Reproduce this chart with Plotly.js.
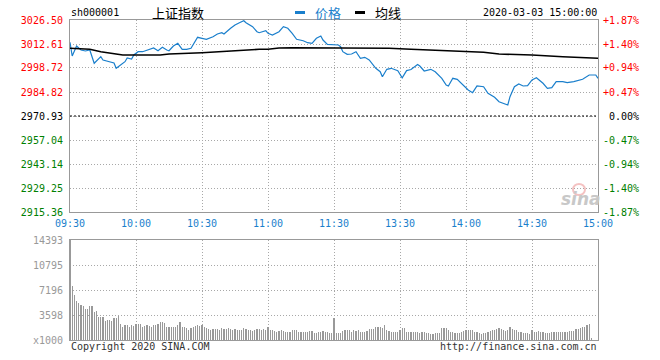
<!DOCTYPE html>
<html><head><meta charset="utf-8">
<script src="https://cdn.plot.ly/plotly-3.0.1.min.js"></script>
<style>html,body{margin:0;padding:0;background:#fff;}#chart{width:660px;height:360px;}</style>
</head><body><div id="chart"></div>
<script>
const timeTicks = [0,30,60,90,120,150,180,210,240];
const timeLabels = ['09:30','10:00','10:30','11:00','11:30','13:30','14:00','14:30','15:00'];
const priceTicks = [3026.50,3012.61,2998.72,2984.82,2970.93,2957.04,2943.14,2929.25,2915.36];
const pctLabels = ['+1.87%','+1.40%','+0.94%','+0.47%','0.00%','-0.47%','-0.94%','-1.40%','-1.87%'];
const prevClose = 2970.93;
const volTicks = [0,3598,7196,10795,14393];
const volLabels = ['x1000','3598','7196','10795','14393'];

const priceIdx = [0,1,3,5,7,9,11,14,15,18,20,21,23,25,26,28,29,31,33,35,
  38,40,42,44,45,47,49,51,53,55,57,58,60,62,65,67,69,70,73,75,
  77,79,80,83,85,86,89,90,92,95,97,99,101,103,106,108,110,112,114,115,
  117,120,122,123,124,126,128,130,132,134,136,139,141,142,144,146,149,151,153,155,
  158,159,161,164,166,169,171,172,174,176,178,181,183,185,188,190,193,195,199,200,
  202,204,206,208,210,212,215,217,219,221,224,226,229,233,236,239,240];
const priceVal = [3013.59,3005.66,3011.45,3009.13,3008.56,3009.13,3001.44,3005.26,3003.35,3002.36,3001.61,2998.54,3000.45,3002.36,3004.50,3003.92,3006.24,3008.15,3008.15,3009.13,
  3010.29,3008.73,3010.70,3009.13,3008.73,3011.45,3013.01,3009.54,3009.54,3010.12,3013.94,3016.49,3015.91,3015.33,3016.83,3018.40,3019.15,3018.40,3021.70,3023.61,
  3024.94,3026.10,3024.94,3022.62,3019.73,3019.15,3020.31,3018.80,3017.82,3019.73,3022.62,3021.70,3018.80,3015.33,3014.52,3013.36,3013.01,3015.91,3017.24,3014.92,
  3012.43,3012.03,3012.03,3011.05,3008.15,3006.65,3006.82,3008.15,3004.33,3004.91,3003.35,2998.54,2996.57,2993.68,2997.96,2998.54,2997.15,2993.05,2997.20,2997.85,
  3000.74,2999.87,2996.98,2997.96,2996.57,2992.75,2988.87,2988.30,2992.75,2992.17,2989.86,2985.98,2984.42,2988.30,2987.89,2984.07,2981.76,2979.21,2977.30,2982.10,
  2987.89,2989.45,2988.30,2988.47,2991.77,2993.10,2989.86,2986.97,2987.31,2990.79,2990.79,2990.21,2990.79,2992.17,2994.66,2994.66,2992.75];

const avgIdx = [0,9,14,20,24,41,45,60,68,77,86,90,95,101,136,145,155,170,180,188,195,210,224,233,240];
const avgVal = [3010.12,3009.54,3008.15,3007.22,3006.24,3006.24,3006.82,3007.57,3008.15,3009.13,3009.54,3009.54,3010.30,3010.47,3010.47,3010.12,3009.54,3008.73,3008.15,3007.80,3006.82,3006.24,3005.26,3004.68,3004.33];

const volume = [
  14393,7770,6480,5660,5370,5040,4890,4410,4510,4890,
  4890,4080,4170,3360,3260,3360,2780,2880,2880,2780,
  3170,3170,3450,2300,1920,2210,2160,1820,2160,2020,
  2300,2300,2300,1920,2020,2110,2020,1920,2110,2110,
  2300,2640,2640,2400,1920,1820,1820,1820,1820,2160,
  2640,1920,1820,1680,1440,1680,1920,2020,2110,2020,
  2110,1920,1680,1540,1440,1580,1580,1580,1440,1680,
  1580,1580,1680,1580,1440,1580,1440,1440,1440,1680,
  1540,1440,1440,1340,1440,1540,1540,1440,1540,1440,
  1820,1440,1440,1300,1200,1340,1440,1300,1200,1200,
  1200,1440,1440,1440,1200,1100,1100,1200,1200,1300,
  1300,1050,1050,1100,1200,1300,1200,1100,1050,960,
  3120,1055,1055,1055,1295,1440,1440,1440,1200,1440,
  1295,1440,1200,1200,1200,1340,1540,1580,1580,1820,
  1920,1920,1730,2160,1440,1295,1200,1150,1150,1150,
  1440,1680,1680,1200,1200,1150,1150,1150,1150,960,
  1150,1150,960,960,860,860,960,960,1055,1680,
  1730,1680,1440,1200,1150,960,960,1055,1150,1340,
  1440,1440,1440,1440,1150,1150,1055,860,960,1055,
  1200,1340,1440,1440,1580,1680,1580,1440,1340,1400,
  1820,1580,1440,1440,1150,1150,1055,960,960,860,
  1440,1200,1150,1340,1200,1200,1055,1055,960,1150,
  1150,1150,1150,1150,1150,1150,1150,1340,1340,1340,
  1580,1630,1730,1820,1920,2160,2300,340,0,0,
  0];
const volIdx = volume.map((v,i)=>i);

const BLUE = '#1a7fcc';
const MONO = 'DejaVu Sans Mono, Liberation Mono, monospace';
const CJK = 'Noto Sans CJK SC, sans-serif';
function tone(v){ return v>prevClose+0.001 ? '#ff0000' : (v<prevClose-0.001 ? '#008000' : '#000000'); }
const priceText = priceTicks.map(v=>'<span style="color:'+tone(v)+'">'+v.toFixed(2)+'</span>');
const pctText = pctLabels.map((t,i)=>{ let s=t; while(s.length<6) s='\u00A0'+s; return '<span style="color:'+tone(priceTicks[i])+'">'+s+'</span>'; });

const px = x => (x-70)/528;
const py = y => (340-y)/320;

const traces = [
  {x:priceIdx, y:priceVal, xaxis:'x', yaxis:'y', type:'scatter', mode:'lines', line:{color:BLUE,width:1.2}, hoverinfo:'skip'},
  {x:avgIdx, y:avgVal, xaxis:'x', yaxis:'y', type:'scatter', mode:'lines', line:{color:'#000',width:1.6}, hoverinfo:'skip'},
  {x:[0], y:[prevClose], xaxis:'x', yaxis:'y3', type:'scatter', mode:'markers', marker:{opacity:0}, hoverinfo:'skip'},
  {x:volIdx, y:volume, xaxis:'x2', yaxis:'y2', type:'bar', width:0.5, marker:{color:'#999999', line:{width:0}}, hoverinfo:'skip'}
];

const gridCommon = {showgrid:true, gridcolor:'#a8a8a8', griddash:'1px,2px', gridwidth:1, zeroline:false,
  showline:true, mirror:true, linecolor:'#999999', linewidth:1, ticks:''};

const layout = {
  width:660, height:360, margin:{l:70,r:62,t:20,b:20}, paper_bgcolor:'#fff', plot_bgcolor:'#fff',
  showlegend:false, bargap:0,
  xaxis:Object.assign({domain:[0,1], anchor:'y', range:[0,240], tickmode:'array', tickvals:timeTicks, ticktext:timeLabels,
    tickfont:{family:MONO,size:10,color:BLUE}, ticklabelstandoff:2}, gridCommon),
  yaxis:Object.assign({domain:[0.4,1], anchor:'x', range:[2915.36,3026.50], tickmode:'array', tickvals:priceTicks, ticktext:priceText,
    tickfont:{family:MONO,size:10,color:'#000'}, ticklabelstandoff:4}, gridCommon),
  yaxis3:{overlaying:'y', side:'right', anchor:'x', range:[2915.36,3026.50], tickmode:'array', tickvals:priceTicks, ticktext:pctText,
    tickfont:{family:MONO,size:10,color:'#000'}, showgrid:false, showline:false, zeroline:false, ticks:'', ticklabelstandoff:4},
  xaxis2:Object.assign({domain:[0,1], anchor:'y2', range:[0,240], tickmode:'array', tickvals:timeTicks, showticklabels:false}, gridCommon),
  yaxis2:Object.assign({domain:[0,0.3125], anchor:'x2', range:[0,14393], tickmode:'array', tickvals:volTicks, ticktext:volLabels,
    tickfont:{family:MONO,size:10,color:'#999999'}, ticklabelstandoff:4}, gridCommon),
  shapes:[
    {type:'line', xref:'x', yref:'y', x0:0, x1:240, y0:prevClose, y1:prevClose, line:{color:'#000',width:1,dash:'2px,2px'}},
    {type:'line', xref:'paper', yref:'paper', x0:px(295), x1:px(305), y0:py(12.5), y1:py(12.5), line:{color:BLUE,width:3}},
    {type:'line', xref:'paper', yref:'paper', x0:px(355), x1:px(365), y0:py(12.5), y1:py(12.5), line:{color:'#000',width:3}},
    {type:'circle', xref:'paper', yref:'paper', x0:px(573), x1:px(585), y0:py(195), y1:py(184), line:{color:'rgba(230,120,120,0.45)',width:2}}
  ],
  annotations:[
    {text:'sh000001', x:px(69), y:py(13), xref:'paper', yref:'paper', xanchor:'left', yanchor:'middle', showarrow:false, font:{family:MONO,size:10,color:'#000'}},
    {text:'上证指数', x:px(150), y:py(12), xref:'paper', yref:'paper', xanchor:'left', yanchor:'middle', showarrow:false, font:{family:CJK,size:13,color:'#000'}},
    {text:'价格', x:px(313), y:py(12), xref:'paper', yref:'paper', xanchor:'left', yanchor:'middle', showarrow:false, font:{family:CJK,size:13,color:BLUE}},
    {text:'均线', x:px(373), y:py(12), xref:'paper', yref:'paper', xanchor:'left', yanchor:'middle', showarrow:false, font:{family:CJK,size:13,color:'#000'}},
    {text:'2020-03-03 15:00:00', x:px(599), y:py(13), xref:'paper', yref:'paper', xanchor:'right', yanchor:'middle', showarrow:false, font:{family:MONO,size:10,color:'#000'}},
    {text:'Copyright 2020 SINA.COM', x:px(69), y:py(346), xref:'paper', yref:'paper', xanchor:'left', yanchor:'middle', showarrow:false, font:{family:MONO,size:10,color:'#333'}},
    {text:'http://finance.sina.com.cn', x:px(599), y:py(346), xref:'paper', yref:'paper', xanchor:'right', yanchor:'middle', showarrow:false, font:{family:MONO,size:10,color:'#333'}},
    {text:'<b><i>sina</i></b>', x:px(581), y:py(199), xref:'paper', yref:'paper', xanchor:'center', yanchor:'middle', showarrow:false, font:{family:'DejaVu Sans, sans-serif',size:17,color:'#c8c8c8'}}
  ]
};

Plotly.newPlot('chart', traces, layout, {staticPlot:true, displayModeBar:false});
</script>
</body></html>
